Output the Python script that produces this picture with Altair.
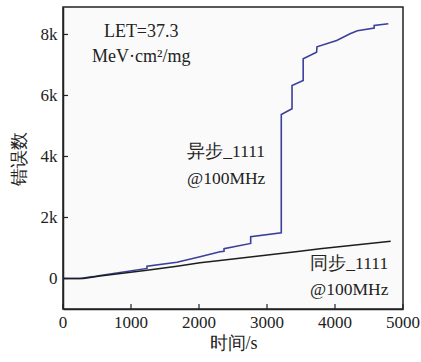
import altair as alt
import pandas as pd

# --- data ---
async_t = [0, 250, 440, 545, 1235, 1235, 1676, 2015, 2309, 2368, 2368, 2760, 2760, 3210, 3210,
           3368, 3368, 3532, 3532, 3729, 3735, 4025, 4221, 4329, 4576, 4576, 4784]
async_v = [0, 0, 60, 100, 330, 400, 535, 710, 875, 895, 975, 1150, 1370, 1500, 5377,
           5564, 6328, 6492, 7203, 7420, 7597, 7800, 8023, 8120, 8207, 8295, 8350]
sync_t = [0, 300, 545, 1235, 1676, 2015, 2309, 3485, 3779, 4819]
sync_v = [0, 0, 80, 270, 400, 515, 590, 895, 975, 1223]

x_ticks = [0, 1000, 2000, 3000, 4000, 5000]
x_tick_labels = ["0", "1000", "2000", "3000", "4000", "5000"]
y_ticks = [0, 2000, 4000, 6000, 8000]

ann_x = [1150, 1150, 2400, 2400, 4210, 4210]
ann_y = [8066, 7246, 4131, 3246, 459, -361]
ann_text = ["LET=37.3", "MeV·cm²/mg", "异步_1111", "@100MHz", "同步_1111", "@100MHz"]
ann_size = [18, 18, 17.5, 17.5, 17.5, 17.5]

FONT = "Liberation Serif"

rows = []
for i, (t, v) in enumerate(zip(async_t, async_v)):
    rows.append({"t": t, "v": v, "s": "async", "i": i})
for i, (t, v) in enumerate(zip(sync_t, sync_v)):
    rows.append({"t": t, "v": v, "s": "sync", "i": i})
df = pd.DataFrame(rows)

xscale = alt.Scale(domain=[0, 5000], nice=False, zero=False)
yscale = alt.Scale(domain=[-1000, 8900], nice=False, zero=False)

xaxis = alt.Axis(
    values=x_ticks, tickSize=0, labels=False, grid=False,
    title="时间/s", titleFont=FONT, titleFontSize=18, titleFontWeight="normal",
    titleColor="#222", titlePadding=25,
    domainColor="#222", domainWidth=1.5)
yaxis = alt.Axis(
    values=y_ticks, tickSize=0, labelPadding=6, grid=False,
    labelExpr="datum.value == 0 ? '0' : (datum.value / 1000) + 'k'",
    labelFlush=False, labelOverlap=False,
    labelFont=FONT, labelFontSize=17, labelColor="#222",
    title="错误数", titleFont=FONT, titleFontSize=18, titleFontWeight="normal",
    titleColor="#222", titlePadding=12,
    domainColor="#222", domainWidth=1.5)

lines = alt.Chart(df).mark_line(strokeWidth=1.6).encode(
    x=alt.X("t:Q", scale=xscale, axis=xaxis),
    y=alt.Y("v:Q", scale=yscale, axis=yaxis),
    color=alt.Color("s:N", scale=alt.Scale(domain=["async", "sync"],
                                           range=["#3b3f9c", "#1c201c"]), legend=None),
    order=alt.Order("i:Q"),
    detail="s:N",
)

xt = pd.DataFrame({"t": x_ticks, "label": x_tick_labels})
yt = pd.DataFrame({"v": y_ticks})

xtick_marks = alt.Chart(xt).mark_rule(color="#222", strokeWidth=1.2).encode(
    x=alt.X("t:Q", scale=xscale, axis=xaxis),
    y=alt.value(302), y2=alt.value(297),
)
xtick_labels = alt.Chart(xt).mark_text(font=FONT, fontSize=17, color="#222",
                                       align="center", baseline="middle").encode(
    x=alt.X("t:Q", scale=xscale, axis=xaxis),
    y=alt.value(316),
    text="label:N",
)
ytick_marks = alt.Chart(yt).mark_rule(color="#222", strokeWidth=1.2).encode(
    y=alt.Y("v:Q", scale=yscale, axis=yaxis),
    x=alt.value(0), x2=alt.value(5),
)

ann = pd.DataFrame({"t": ann_x, "v": ann_y, "text": ann_text, "size": ann_size})
texts = alt.Chart(ann).mark_text(font=FONT, align="center", baseline="middle",
                                 color="#222").encode(
    x=alt.X("t:Q", scale=xscale, axis=xaxis),
    y=alt.Y("v:Q", scale=yscale, axis=yaxis),
    text="text:N",
    size=alt.Size("size:Q", scale=None, legend=None),
)

chart = alt.layer(lines, xtick_marks, xtick_labels, ytick_marks, texts).properties(
    width=340, height=302,
    autosize=alt.AutoSizeParams(type="none"),
    padding={"left": 63, "top": 7, "right": 18, "bottom": 53},
    background="white",
).configure_view(
    stroke="#222", strokeWidth=1.5, fill="#fafafa"
)

chart.save("out.html", embed_options={"renderer": "svg", "actions": False})
